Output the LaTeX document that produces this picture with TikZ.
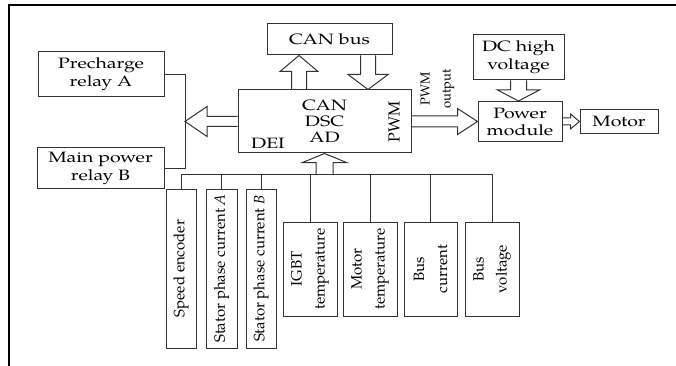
\documentclass[tikz,border=0pt]{standalone}
\usepackage{fontspec}
\setmainfont{TeX Gyre Pagella}
\newfontfamily\widefont[FakeStretch=1.3]{TeX Gyre Pagella}
\usepackage{tikz}
\usetikzlibrary{calc}

% hollow block arrow: start, tip, shaft half width, head half width, head length
\newcommand{\hollowarrow}[5]{%
  \coordinate (hb) at ($(#2)!#5!(#1)$);
  \draw[hollow] ($(#1)!#3!90:(#2)$) -- ($(hb)!#3!90:(#2)$) -- ($(hb)!#4!90:(#2)$) -- (#2)
    -- ($(hb)!#4!-90:(#2)$) -- ($(hb)!#3!-90:(#2)$) -- ($(#1)!#3!-90:(#2)$);
}

\begin{document}
\begin{tikzpicture}[
    x=1pt, y=-1pt,
    block/.style={rectangle, draw=black!80, line width=1pt, align=center, inner sep=2pt, font=\widefont\fontsize{15}{18}\selectfont},
    vblock/.style={rectangle, draw=black!80, line width=1pt, align=center, inner sep=2pt, rotate=90, font=\fontsize{15}{23}\selectfont},
    wire/.style={draw=black!80, line width=1pt},
    hollow/.style={draw=black!80, line width=1pt, line join=miter}
]
\useasboundingbox (0,0) rectangle (676,366);

% Frame
\draw[line width=2pt] (9,366) -- (9,5) -- (676,5);

% Relays
\node[block, minimum width=126pt, minimum height=45pt] (relay_a) at (101,74.5) {Precharge\\relay A};
\node[block, minimum width=127pt, minimum height=40pt] (relay_b) at (100.5,168) {Main power\\relay B};

% CAN bus and controller
\node[block, minimum width=125pt, minimum height=31pt] (can_bus) at (329.5,39.5) {CAN bus};
\node[block, minimum width=173pt, minimum height=63pt, font=\widefont\fontsize{15}{16}\selectfont] (cpu) at (324.5,121.5) {CAN\\DSC\\AD};
\node[font=\widefont\fontsize{15}{18}\selectfont] (dei) at (268,143) {DEI};
\node[rotate=90, font=\fontsize{16}{17}\selectfont] (pwm) at (394,122) {PWM};

% Power stage
\node[block, minimum width=91pt, minimum height=45pt] (dc_hv) at (518.5,57.5) {DC high\\voltage};
\node[block, minimum width=84pt, minimum height=40pt, font=\widefont\fontsize{15}{17}\selectfont] (power_mod) at (520,121.5) {Power\\module};
\node[block, minimum width=78pt, minimum height=24pt] (motor) at (619,121.5) {Motor};
\node[rotate=90, align=center, font=\fontsize{13}{21}\selectfont] (pwm_out) at (437.5,89) {PWM\\output};

% Sensors
\node[vblock, minimum width=159pt, minimum height=30pt] (speed) at (181,268.5) {Speed encoder};
\node[vblock, minimum width=159pt, minimum height=31pt] (stat_a) at (221.5,268.5) {Stator phase current \textit{A}};
\node[vblock, minimum width=159pt, minimum height=30pt] (stat_b) at (261,268.5) {Stator phase current \textit{B}};
\node[vblock, minimum width=94pt, minimum height=54pt] (igbt) at (310,269) {IGBT\\temperature};
\node[vblock, minimum width=94pt, minimum height=54pt] (motor_temp) at (370,269) {Motor\\temperature};
\node[vblock, minimum width=94pt, minimum height=53pt] (bus_cur) at (430.5,269) {Bus\\current};
\node[vblock, minimum width=94pt, minimum height=54pt] (bus_volt) at (492,269) {Bus\\voltage};

% Helper coordinates
\coordinate (bkt) at (185,0);
\coordinate (bus) at (0,174);
\coordinate (can_up) at (299,0);
\coordinate (can_dn) at (368,0);

% Relay bracket
\draw[wire] (relay_a.east) -| (bkt |- relay_b.east) -- (relay_b.east);

% Sensor bus
\draw[wire] (speed.east) -- (speed.east |- bus) -- (bus_volt.east |- bus) -- (bus_volt.east);
\draw[wire] (stat_a.east) -- (stat_a.east |- bus);
\draw[wire] (stat_b.east) -- (stat_b.east |- bus);
\draw[wire] (igbt.east) -- (igbt.east |- bus);
\draw[wire] (motor_temp.east) -- (motor_temp.east |- bus);
\draw[wire] (bus_cur.east) -- (bus_cur.east |- bus);

% Block arrows
\hollowarrow{cpu.west}{bkt |- cpu.west}{5pt}{15pt}{22pt}
\hollowarrow{can_up |- cpu.north}{can_up |- can_bus.south}{7.5pt}{19pt}{16pt}
\hollowarrow{can_dn |- can_bus.south}{can_dn |- cpu.north}{7.5pt}{20pt}{15pt}
\hollowarrow{cpu.south |- bus}{cpu.south}{8.5pt}{22pt}{9pt}
\hollowarrow{cpu.east}{power_mod.west}{5.5pt}{13pt}{20pt}
\hollowarrow{dc_hv.south}{dc_hv.south |- power_mod.north}{8pt}{21pt}{11pt}
\hollowarrow{power_mod.east}{motor.west}{3.5pt}{7.5pt}{9pt}

\end{tikzpicture}
\end{document}
